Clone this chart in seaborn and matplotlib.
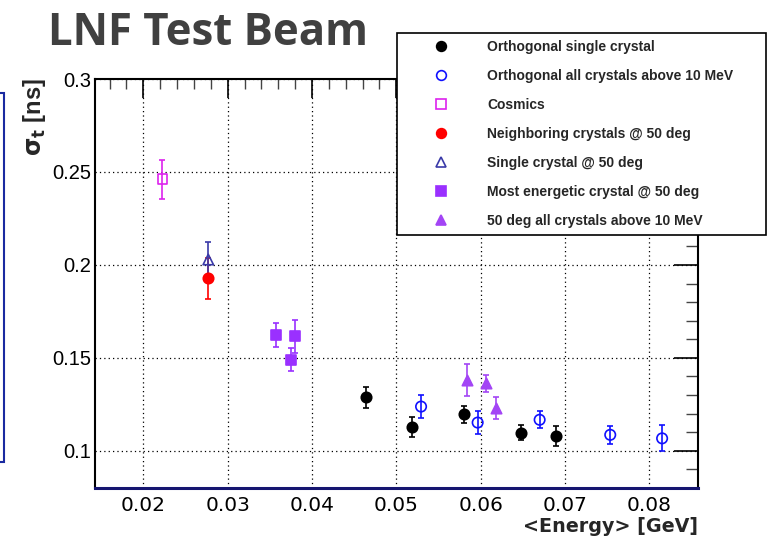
import numpy as np
import pandas as pd
import matplotlib
matplotlib.use("Agg")
import matplotlib.pyplot as plt
from matplotlib.patches import Rectangle
from matplotlib.ticker import MultipleLocator
from matplotlib.lines import Line2D
import seaborn as sns

# ---------------- data ----------------
orth_single_x = [0.04645, 0.05186, 0.05798, 0.06475, 0.06894]
orth_single_y = [0.1288, 0.1129, 0.1197, 0.1097, 0.1080]
orth_single_e = [0.0057, 0.0055, 0.0045, 0.0040, 0.0055]

orth_all_x = [0.05293, 0.05964, 0.06699, 0.07536, 0.08151]
orth_all_y = [0.1238, 0.1152, 0.1167, 0.1086, 0.1067]
orth_all_e = [0.0060, 0.0060, 0.0045, 0.0048, 0.0070]

cosmics_x = [0.02226]
cosmics_y = [0.2461]
cosmics_e = [0.0105]

neigh_x = [0.0277]
neigh_y = [0.1929]
neigh_e = [0.0110]

single50_x = [0.0277]
single50_y = [0.2029]
single50_e = [0.0095]

mostE_x = [0.03577, 0.03755, 0.0380]
mostE_y = [0.1624, 0.1491, 0.1615]
mostE_e = [0.0066, 0.0063, 0.0090]

all50_x = [0.05832, 0.0606, 0.06184]
all50_y = [0.1382, 0.1364, 0.1229]
all50_e = [0.0086, 0.0045, 0.0060]

labels = ["Orthogonal single crystal",
          "Orthogonal all crystals above 10 MeV",
          "Cosmics",
          "Neighboring crystals @ 50 deg",
          "Single crystal @ 50 deg",
          "Most energetic crystal @ 50 deg",
          "50 deg all crystals above 10 MeV"]

x_ticks = [0.02, 0.03, 0.04, 0.05, 0.06, 0.07, 0.08]
y_ticks = [0.1, 0.15, 0.2, 0.25, 0.3]

# ---------------- style ----------------
sns.set_theme(style="white")
plt.rcParams["font.family"] = ["Liberation Sans", "DejaVu Sans"]

fig = plt.figure(figsize=(7.7, 5.38), dpi=100)
ax = fig.add_axes([95/770, 1-488/538, (697.7-95)/770, (488-79)/538])

series = [
    (orth_single_x, orth_single_y, orth_single_e, "o", "black", "black", 7.5),
    (orth_all_x, orth_all_y, orth_all_e, "o", "none", "#1010ff", 7.5),
    (cosmics_x, cosmics_y, cosmics_e, "s", "none", "#dd22ee", 7.0),
    (neigh_x, neigh_y, neigh_e, "o", "#ff0000", "#ff0000", 7.5),
    (single50_x, single50_y, single50_e, "^", "none", "#3a3aa8", 7.5),
    (mostE_x, mostE_y, mostE_e, "s", "#9a30ff", "#9a30ff", 7.0),
    (all50_x, all50_y, all50_e, "^", "#a345f5", "#a345f5", 7.5),
]

handles = []
for (xs, ys, es, m, fc, ec, ms), lab in zip(series, labels):
    ax.errorbar(xs, ys, yerr=es, fmt="none", ecolor=ec, elinewidth=1.2,
                capsize=2.5, capthick=1.2, zorder=2)
    df = pd.DataFrame({"x": xs, "y": ys})
    sns.scatterplot(data=df, x="x", y="y", marker=m, s=ms**2,
                    facecolor=fc, edgecolor=ec, linewidth=1.2, ax=ax,
                    zorder=3, legend=False)
    handles.append(Line2D([], [], linestyle="none", marker=m, markersize=7,
                          markerfacecolor=fc, markeredgecolor=ec,
                          markeredgewidth=1.2, label=lab))

ax.set_xlim(0.01427, 0.08573)
ax.set_ylim(0.08, 0.30)
ax.set_xticks(x_ticks)
ax.set_yticks(y_ticks)
ax.set_xticklabels([f"{v:g}" for v in x_ticks], family="DejaVu Sans")
ax.set_yticklabels([f"{v:g}" for v in y_ticks])
ax.xaxis.set_minor_locator(MultipleLocator(0.002))
ax.yaxis.set_minor_locator(MultipleLocator(0.01))
ax.set_xlabel("")
ax.set_ylabel("")

ax.grid(True, which="major", color="black", linestyle=(0, (1, 2.5)), linewidth=0.9)
ax.tick_params(which="major", direction="in", length=14, width=1.2,
               top=True, right=True, colors="black")
ax.tick_params(which="minor", direction="in", length=7, width=1.0,
               top=True, right=True, color="#444444")
ax.tick_params(axis="y", which="major", length=17, pad=3, labelsize=14.5)
ax.tick_params(axis="y", which="minor", length=9)
ax.tick_params(axis="x", which="major", pad=6, labelsize=14.5)
for s in ["left", "top", "right"]:
    ax.spines[s].set_visible(True)
    ax.spines[s].set_color("black")
    ax.spines[s].set_linewidth(1.5)
ax.spines["bottom"].set_color("#151570")
ax.spines["bottom"].set_linewidth(2.2)
ax.spines["bottom"].set_visible(True)

# ---------------- texts ----------------
fig.text(48/770, 1-45/538, "LNF Test Beam", fontsize=31.5, fontweight="bold",
         color="#404040", family=["Open Sans", "DejaVu Sans"],
         ha="left", va="baseline")
fig.text(35/770, 1-78/538, r"$\mathbf{\sigma_t}$ [ns]", rotation=90,
         fontsize=17, fontweight="bold", ha="center", va="top")
fig.text(698/770, 1-532/538, "<Energy> [GeV]", fontsize=13.8,
         fontweight="bold", family="DejaVu Sans", ha="right", va="baseline")

# ---------------- legend ----------------
leg = fig.legend(handles=handles, loc="upper left",
                 bbox_to_anchor=(397/770, 1-33/538, 369/770, 0.0),
                 mode="expand",
                 frameon=True, fancybox=False, shadow=False,
                 prop={"weight": "bold", "size": 10},
                 handlelength=5.4, handletextpad=0.6, borderpad=0.5,
                 labelspacing=1.08, borderaxespad=0, markerscale=1.0)
leg.get_frame().set_edgecolor("black")
leg.get_frame().set_linewidth(1.2)
leg.get_frame().set_facecolor("white")
leg.get_frame().set_alpha(1)

# blue frame edge on the left (slide artifact)
fig.patches.append(Rectangle((-10/770, 1-462/538), 14/770, (462-93)/538,
                             transform=fig.transFigure, fill=False,
                             edgecolor="#1a2aa0", linewidth=1.5))

fig.savefig("out.png", dpi=100)
